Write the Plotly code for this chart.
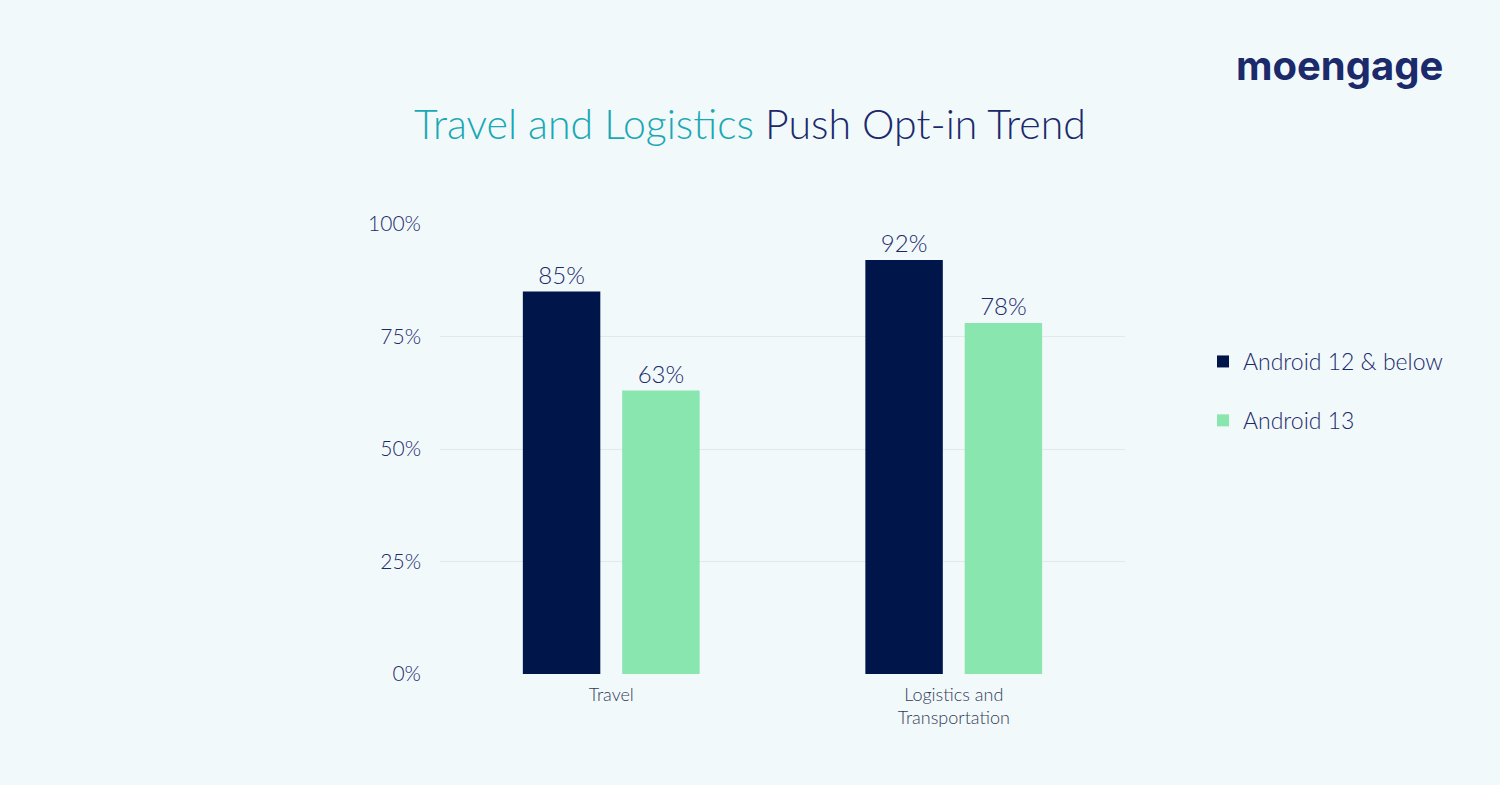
import plotly.graph_objects as go

categories = ["Travel", "Logistics and<br>Transportation"]
series_names = ["Android 12 & below", "Android 13"]
android12 = [85, 92]
android13 = [63, 78]
colors = ["#00154A", "#8AE6AF"]
tick_vals = [0, 25, 50, 75, 100]
tick_text = ["0%", "25%", "50%", "75%", "100%"]

FONT = "Lato"
NAVY = "#1B2A6B"
fig = go.Figure()
for i, (name, vals, c) in enumerate(zip(series_names, [android12, android13], colors)):
    fig.add_trace(go.Bar(
        x=categories, y=vals, name=name, legendgroup=f"g{i}",
        marker=dict(color=c, line=dict(width=0)),
        text=[f"{v}%" for v in vals], textposition="outside",
        textfont=dict(family=FONT, size=24, color=NAVY, weight=300), cliponaxis=False,
    ))

fig.update_layout(
    width=1500, height=785,
    paper_bgcolor="#F2F9FB", plot_bgcolor="#F2F9FB",
    margin=dict(l=0, r=0, t=0, b=0, pad=0),
    barmode="group", bargap=0.42, bargroupgap=0.22,
    font=dict(family=FONT, color=NAVY),
    title=dict(
        text="<span style='color:#1BA8B5'>Travel and Logistics</span> Push Opt-in Trend",
        x=0.5, xanchor="center", y=1 - 125 / 785, yanchor="middle",
        font=dict(family=FONT, size=41, color=NAVY, weight=300),
    ),
    xaxis=dict(domain=[440 / 1500, 1125 / 1500], showgrid=False, showline=False, automargin=False,
               tickfont=dict(family=FONT, size=18, color="#333C5A", weight=300), ticks="", ticklabelstandoff=8),
    yaxis=dict(domain=[1 - 674 / 785, 1 - 224 / 785], range=[0, 100], automargin=False,
               tickvals=tick_vals, ticktext=tick_text, showgrid=True,
               gridcolor="#E2E8EC", gridwidth=1, zeroline=False, showline=False,
               tickfont=dict(family=FONT, size=21, color=NAVY, weight=300), ticks="", ticklabelstandoff=18),
    legend=dict(x=1203 / 1500, y=1 - 340 / 785, xanchor="left", yanchor="top",
                font=dict(family=FONT, size=23, color=NAVY, weight=300), itemwidth=30,
                tracegroupgap=26, bgcolor="rgba(0,0,0,0)"),
    showlegend=True,
)
fig.add_annotation(text="<b>moengage</b>", xref="paper", yref="paper",
                   x=1445 / 1500, y=1 - 66 / 785, xanchor="right", yanchor="middle",
                   showarrow=False, font=dict(family="Inter", size=40, color="#1B2A6B"))
fig.write_html("out.html", config={"displayModeBar": False},
               post_script="document.body.style.margin='0';")
